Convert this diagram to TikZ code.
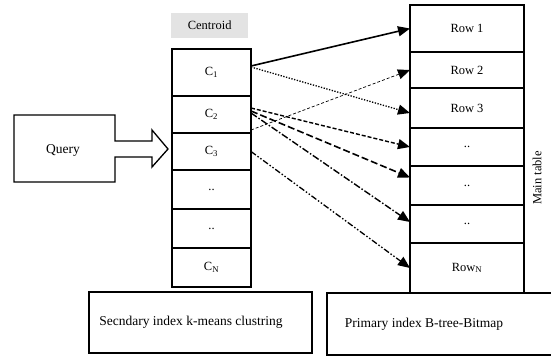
\documentclass[tikz,border=0pt]{standalone}
\usepackage{fontspec}
\setmainfont{Liberation Serif}
\usetikzlibrary{arrows.meta,calc}
\begin{document}
\begin{tikzpicture}[x=1pt,y=-1pt,
  cell/.style={draw,line width=1.5pt,inner sep=0pt,outer sep=0pt,anchor=north west,font=\fontsize{12.5}{14}\selectfont},
  ccell/.style={cell,minimum width=79pt},
  rcell/.style={cell,minimum width=114pt},
  tip/.style={-{Triangle[length=12pt,width=10pt]}},
  bigbox/.style={draw,line width=1.3pt,inner sep=0pt,outer sep=0pt,font=\fontsize{13.5}{16}\selectfont},
  ls1/.style={tip,line width=1.6pt},
  ls2/.style={tip,line width=1.3pt,dash pattern=on 1.3pt off 1.5pt},
  ls3/.style={tip,line width=0.7pt,dash pattern=on 3pt off 2pt},
  ls4/.style={tip,line width=1.4pt,dash pattern=on 4pt off 2pt},
  ls5/.style={tip,line width=1.6pt,dash pattern=on 7pt off 3pt},
  ls6/.style={tip,line width=1.4pt,dash pattern=on 7pt off 2pt on 1.5pt off 2pt},
  ls7/.style={tip,line width=1.3pt,dash pattern=on 6pt off 2pt on 1.5pt off 2pt on 1.5pt off 2pt}
]
\useasboundingbox (0,0) rectangle (551,356);

% centroid label
\node[fill=black!11,inner sep=0pt,minimum width=77pt,minimum height=25pt,anchor=north west,font=\fontsize{12.5}{14}\selectfont] (cent) at (171,13) {Centroid};

% centroid column
\node[ccell,minimum height=47pt] (c1) at (172,49) {C\textsubscript{1}};
\node[ccell,minimum height=37pt] (c2) at (172,96) {C\textsubscript{2}};
\node[ccell,minimum height=37pt] (c3) at (172,133) {C\textsubscript{3}};
\node[ccell,minimum height=39pt] (c4) at (172,170) {..};
\node[ccell,minimum height=39pt] (c5) at (172,209) {..};
\node[ccell,minimum height=39pt] (c6) at (172,248) {C\textsubscript{N}};

% main table
\node[rcell,minimum height=47pt] (r1) at (410,5) {Row 1};
\node[rcell,minimum height=36pt] (r2) at (410,52) {Row 2};
\node[rcell,minimum height=40pt] (r3) at (410,88) {Row 3};
\node[rcell,minimum height=38pt] (r4) at (410,128) {..};
\node[rcell,minimum height=39pt] (r5) at (410,166) {..};
\node[rcell,minimum height=38pt] (r6) at (410,205) {..};
\node[rcell,minimum height=50pt] (r7) at (410,243) {Row\textsubscript{N}};
\node[rotate=90,font=\fontsize{12.5}{14}\selectfont] (mt) at (537,178) {Main table};

% query arrow shape
\draw[line width=1.3pt,line join=miter] (14,115) -- (115,115) -- (115,141) -- (152,141) -- (152,130) -- (168,149) -- (152,167) -- (152,157) -- (115,157) -- (115,182) -- (14,182) -- cycle;
\node[font=\fontsize{13.5}{16}\selectfont] (query) at (63,150) {Query};

% connectors
\draw[ls1] ($(c1.east)+(0,-6.5)$) -- (r1.west);
\draw[ls2] ($(c1.east)+(0,-5.5)$) -- ($(r3.west)+(0,5)$);
\draw[ls3] ($(c2.south east)+(0,-3)$) -- (r2.west);
\draw[ls4] ($(c2.east)+(0,-6.5)$) -- (r4.west);
\draw[ls5] ($(c2.east)+(0,-3.5)$) -- ($(r5.west)+(0,-8)$);
\draw[ls6] ($(c2.east)+(0,-1.5)$) -- ($(r6.west)+(0,-2)$);
\draw[ls7] (c3.east) -- (r7.west);

% bottom boxes
\node[bigbox,minimum width=223pt,minimum height=61pt,anchor=north west] (sec) at (89,292) {};
\node[font=\fontsize{13.5}{16}\selectfont] (sectext) at (191,322) {Secndary index k-means clustring};
\draw[line width=1.3pt] (551,293) -- (327,293) -- (327,355) -- (551,355);
\node[font=\fontsize{13.5}{16}\selectfont] (prim) at (424,324) {Primary index B-tree-Bitmap};
\end{tikzpicture}
\end{document}
